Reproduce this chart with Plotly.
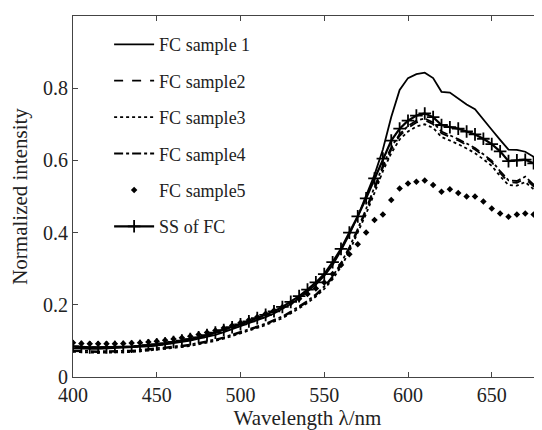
import plotly.graph_objects as go

# wavelength grid (nm)
wavelength = list(range(400, 685, 5))

fc_sample1 = [0.080, 0.078, 0.078, 0.078, 0.079, 0.079, 0.080, 0.081, 0.083, 0.085,
              0.087, 0.090, 0.093, 0.097, 0.101, 0.106, 0.111, 0.117, 0.124, 0.132,
              0.140, 0.148, 0.157, 0.166, 0.176, 0.188, 0.202, 0.218, 0.236, 0.256,
              0.280, 0.310, 0.350, 0.395, 0.445, 0.500, 0.560, 0.630, 0.720, 0.795,
              0.828, 0.839, 0.843, 0.828, 0.790, 0.788, 0.772, 0.755, 0.742, 0.715,
              0.685, 0.657, 0.630, 0.629, 0.624, 0.610, 0.620]

fc_sample2 = [0.072, 0.070, 0.070, 0.069, 0.069, 0.070, 0.070, 0.071, 0.073, 0.075,
              0.077, 0.079, 0.082, 0.085, 0.088, 0.092, 0.097, 0.102, 0.108, 0.115,
              0.122, 0.130, 0.138, 0.146, 0.155, 0.166, 0.179, 0.193, 0.208, 0.226,
              0.248, 0.275, 0.310, 0.355, 0.405, 0.460, 0.520, 0.580, 0.630, 0.668,
              0.690, 0.705, 0.712, 0.700, 0.675, 0.666, 0.655, 0.643, 0.630, 0.613,
              0.595, 0.565, 0.540, 0.538, 0.550, 0.528, 0.540]

fc_sample3 = [0.070, 0.068, 0.068, 0.067, 0.067, 0.068, 0.068, 0.069, 0.071, 0.073,
              0.075, 0.077, 0.080, 0.083, 0.086, 0.090, 0.095, 0.100, 0.106, 0.113,
              0.120, 0.128, 0.136, 0.144, 0.153, 0.163, 0.176, 0.190, 0.205, 0.223,
              0.244, 0.271, 0.305, 0.348, 0.398, 0.452, 0.510, 0.570, 0.620, 0.658,
              0.680, 0.694, 0.700, 0.690, 0.665, 0.656, 0.645, 0.633, 0.620, 0.603,
              0.585, 0.556, 0.532, 0.530, 0.540, 0.520, 0.532]

fc_sample4 = [0.074, 0.072, 0.072, 0.071, 0.071, 0.072, 0.072, 0.073, 0.075, 0.077,
              0.079, 0.081, 0.084, 0.087, 0.090, 0.094, 0.099, 0.104, 0.110, 0.117,
              0.124, 0.132, 0.140, 0.148, 0.157, 0.168, 0.181, 0.195, 0.211, 0.229,
              0.251, 0.279, 0.315, 0.360, 0.410, 0.466, 0.526, 0.586, 0.636, 0.673,
              0.695, 0.710, 0.716, 0.705, 0.680, 0.670, 0.659, 0.647, 0.634, 0.617,
              0.599, 0.570, 0.545, 0.543, 0.555, 0.533, 0.546]

fc_sample5 = [0.095, 0.093, 0.092, 0.092, 0.092, 0.092, 0.093, 0.094, 0.095, 0.097,
              0.099, 0.102, 0.105, 0.109, 0.113, 0.118, 0.123, 0.129, 0.136, 0.143,
              0.150, 0.158, 0.166, 0.175, 0.184, 0.194, 0.205, 0.217, 0.230, 0.245,
              0.262, 0.285, 0.310, 0.340, 0.368, 0.400, 0.435, 0.450, 0.490, 0.522,
              0.536, 0.541, 0.544, 0.532, 0.513, 0.520, 0.510, 0.500, 0.500, 0.486,
              0.467, 0.453, 0.444, 0.450, 0.453, 0.450, 0.486]

ss_of_fc = [0.085, 0.083, 0.082, 0.082, 0.082, 0.083, 0.083, 0.084, 0.086, 0.088,
            0.090, 0.093, 0.097, 0.101, 0.105, 0.110, 0.116, 0.123, 0.130, 0.138,
            0.146, 0.154, 0.163, 0.172, 0.182, 0.194, 0.208, 0.224, 0.242, 0.262,
            0.285, 0.318, 0.355, 0.400, 0.445, 0.495, 0.550, 0.605, 0.655, 0.688,
            0.710, 0.724, 0.730, 0.720, 0.698, 0.692, 0.688, 0.680, 0.672, 0.660,
            0.645, 0.625, 0.598, 0.600, 0.602, 0.592, 0.610]

x_ticks = [400, 450, 500, 550, 600, 650]
y_ticks = [0, 0.2, 0.4, 0.6, 0.8, 1]
y_tick_labels = ["0", "0.2", "0.4", "0.6", "0.8", "1"]

FONT = "Liberation Serif, Times New Roman, serif"

fig = go.Figure()

series = [
    ("FC sample 1", fc_sample1, "solid"),
    ("FC sample2", fc_sample2, "dash"),
    ("FC sample3", fc_sample3, "dot"),
    ("FC sample4", fc_sample4, "dashdot"),
]
for i, (name, vals, dash) in enumerate(series):
    fig.add_trace(go.Scatter(x=wavelength, y=vals, name=name, mode="lines",
                             legendgroup="g%d" % i,
                             line=dict(color="black", width=1.8, dash=dash)))

fig.add_trace(go.Scatter(x=wavelength, y=fc_sample5, name="FC sample5", mode="markers",
                         legendgroup="g4",
                         marker=dict(symbol="diamond", size=5, color="black")))

fig.add_trace(go.Scatter(x=wavelength, y=ss_of_fc, name="SS of FC", mode="lines+markers",
                         legendgroup="g5",
                         line=dict(color="black", width=2.2),
                         marker=dict(symbol="cross-thin", size=9,
                                     line=dict(color="black", width=1.8))))

axis_common = dict(showline=True, mirror="ticks", linecolor="#444", linewidth=1.2,
                   ticks="inside", ticklen=5, tickcolor="#444", showgrid=False,
                   zeroline=False, automargin=False,
                   tickfont=dict(family=FONT, size=20, color="#222"))

fig.update_xaxes(range=[400, 680], tickvals=x_ticks,
                 title=dict(text="Wavelength λ/nm", font=dict(family=FONT, size=21, color="#222"),
                            standoff=7),
                 **axis_common)
fig.update_yaxes(range=[0, 1], tickvals=y_ticks, ticktext=y_tick_labels,
                 title=dict(text="Normalized intensity", font=dict(family=FONT, size=21, color="#222"),
                            standoff=10),
                 **axis_common)

# page body has an 8px margin, so the figure is a bit smaller than the window
fig.update_layout(
    width=534, height=422,
    margin=dict(l=65, r=0, t=8, b=53),
    plot_bgcolor="white", paper_bgcolor="white",
    font=dict(family=FONT, size=18, color="#222"),
    legend=dict(x=0.077, y=0.972, xanchor="left", yanchor="top",
                bgcolor="rgba(0,0,0,0)", tracegroupgap=10,
                itemwidth=40, font=dict(family=FONT, size=18, color="#222")),
)

fig.write_html("out.html")
